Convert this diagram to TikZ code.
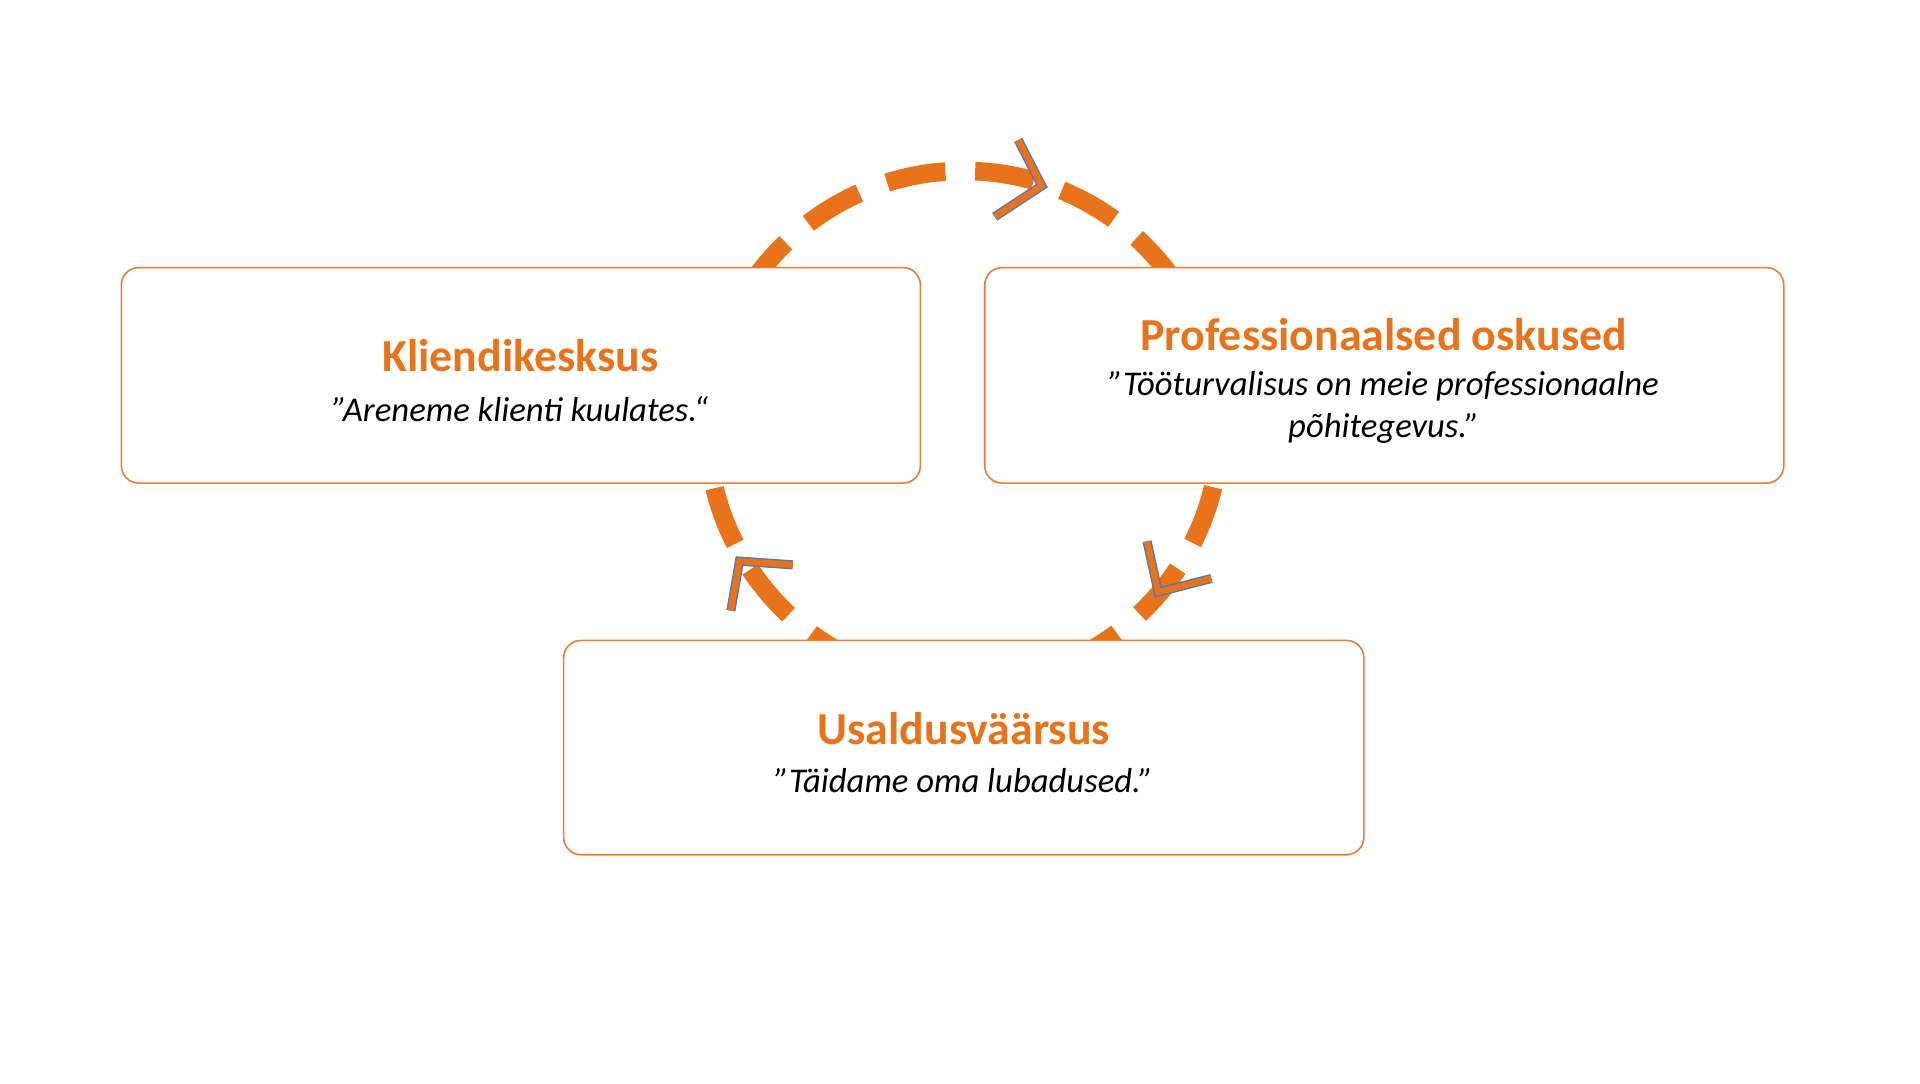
\documentclass[tikz,border=0pt]{standalone}
\usepackage{fontspec}
\setmainfont{Carlito}
\definecolor{org}{HTML}{ED7D31}
\definecolor{dorg}{HTML}{E8731A}
\definecolor{bluegr}{HTML}{5B78B0}
\begin{document}
\begin{tikzpicture}[x=1pt,y=-1pt,
 box/.style={draw=org,line width=1.3pt,fill=white,rounded corners=14pt},
 ttl/.style={text=dorg,font=\bfseries\fontsize{37}{42}\selectfont},
 qt/.style={text=black,font=\itshape\fontsize{28}{34}\selectfont,align=center},
 chev/.style={draw=bluegr,double=dorg,double distance=5pt,line width=1.2pt,line join=miter}]
\useasboundingbox (0,0) rectangle (1550,875);
\fill[white] (0,0) rectangle (1550,875);
\draw[dorg,line width=15pt,dash pattern=on 48pt off 24pt,dash phase=20pt] (778,345) circle [radius=207pt];
\draw[chev] (822,113) -- (841,150) -- (803,175);
\draw[chev] (926,437) -- (935,478) -- (978,467);
\draw[chev] (590,493) -- (597,453) -- (640,456);
\node[box,minimum width=645pt,minimum height=174pt] (k) at (420.5,303) {};
\node[box,minimum width=645pt,minimum height=174pt] (p) at (1117.5,303) {};
\node[box,minimum width=646pt,minimum height=173pt] (u) at (778,603.5) {};
\node[ttl] (kt) at (420,287) {Kliendikesksus};
\node[qt] (kq) at (420,330) {”Areneme klienti kuulates.“};
\node[ttl] (pt) at (1117,270) {Professionaalsed oskused};
\node[qt] (pq) at (1117,329) {”Tööturvalisus on meie professionaalne\\põhitegevus.”};
\node[ttl] (ut) at (778,588) {Usaldusväärsus};
\node[qt] (uq) at (778,630) {”Täidame oma lubadused.”};
\end{tikzpicture}
\end{document}
